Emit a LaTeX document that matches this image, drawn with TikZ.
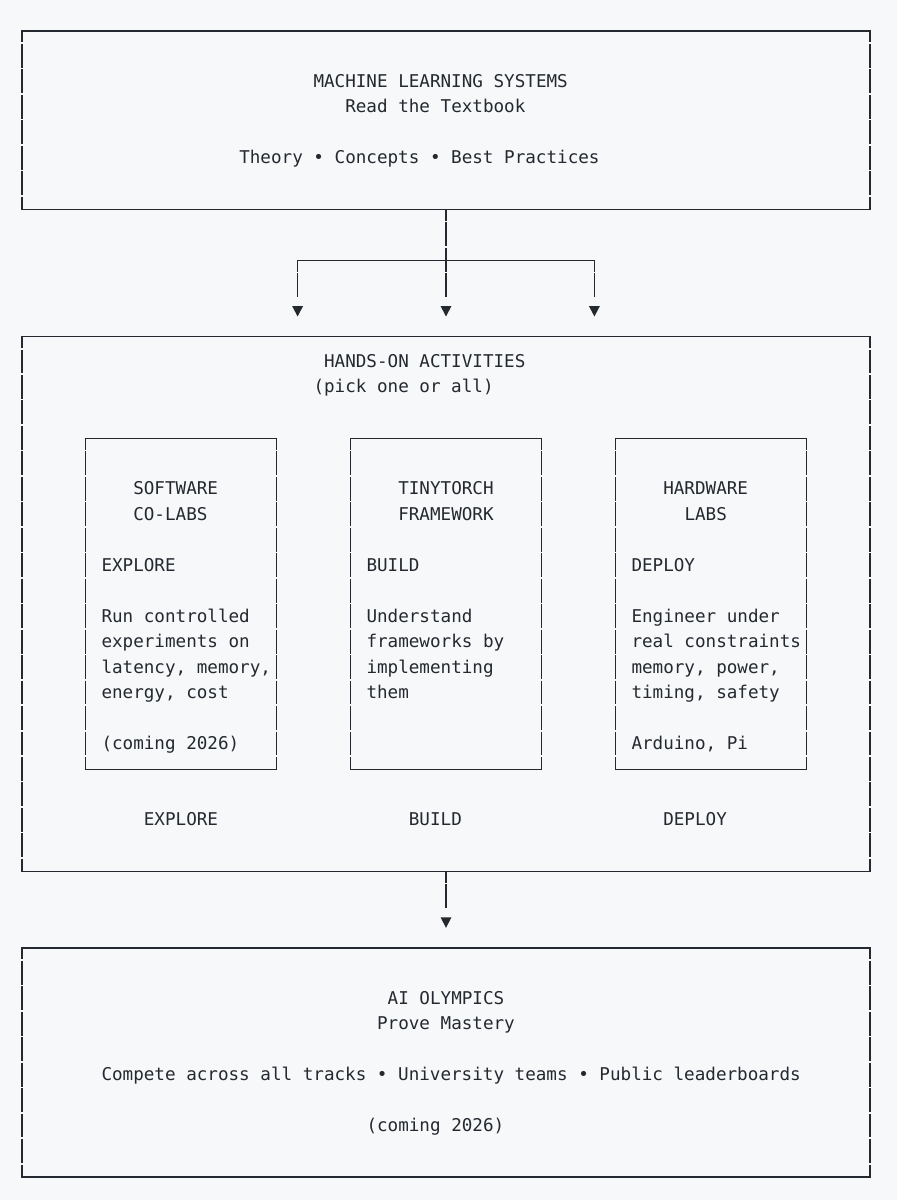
\documentclass[tikz,border=0pt]{standalone}
\usepackage{fontspec}
\usetikzlibrary{fit}
\newfontfamily\asciifont{DejaVu Sans Mono}
\definecolor{ink}{HTML}{24292F}
\definecolor{paper}{HTML}{F6F8FA}
% character grid: column centre and row centre
\newcommand{\cx}[1]{22+10.6*(#1)}
\newcommand{\ry}[1]{31+25.47*(#1)}
\tikzset{
	hrule/.style={draw=ink, line width=1.1pt, line cap=rect},
	vrule/.style={draw=ink, line width=1.1pt, dash pattern=on 17.9pt off 1.2pt, dash phase=9.43pt},
	frame/.style={inner sep=0pt, outer sep=0pt},
	txt/.style={font=\asciifont\fontsize{13.2pt}{16pt}\selectfont, text=ink, anchor=base west, inner sep=0pt, outer sep=0pt},
	tip/.style={fill=ink}
}
\begin{document}
\begin{tikzpicture}[x=0.75pt, y=-0.75pt]
		
		% Background
		\fill[paper] (0,0) rectangle (897,1200);
		
		% Boxes (name / first column / first row / last column / last row)
		\foreach \name/\ca/\ra/\cb/\rb in {ml/0/0/80/7, hands/0/12/80/33, olymp/0/36/80/45, sw/6/16/24/29, tt/31/16/49/29, hw/56/16/74/29}
		{
			\coordinate (\name-a) at ({\cx{\ca}},{\ry{\ra}});
			\coordinate (\name-b) at ({\cx{\cb}},{\ry{\rb}});
			\node[frame, fit=(\name-a)(\name-b)] (\name) {};
			\draw[hrule] (\name.north west) -- (\name.north east) (\name.south west) -- (\name.south east);
			\draw[vrule] (\name.north west) -- (\name.south west) (\name.north east) -- (\name.south east);
		}
		
		% Arrow heads
		\coordinate (tipl) at ({\cx{26}},{\ry{11}});
		\coordinate (tipc) at ({\cx{40}},{\ry{11}});
		\coordinate (tipr) at ({\cx{54}},{\ry{11}});
		\coordinate (tipb) at ({\cx{40}},{\ry{35}});
		\foreach \t in {tipl,tipc,tipr,tipb}
			\fill[tip] (\t) +(-5.4,-5) -- +(5.4,-5) -- +(0,5.3) -- cycle;
		
		% Branch to the activities
		\coordinate (brl) at ({\cx{26}},{\ry{9}});
		\coordinate (brr) at ({\cx{54}},{\ry{9}});
		\draw[hrule] (brl) -- (brr);
		\draw[vrule, shorten >=10.63pt] (ml.south) -- (tipc);
		\draw[vrule, shorten >=10.63pt] (brl) -- (tipl);
		\draw[vrule, shorten >=10.63pt] (brr) -- (tipr);
		
		% Down to the olympics
		\draw[vrule, shorten >=10.63pt] (hands.south) -- (tipb);
		
		% Labels (column / row / text)
		\foreach \c/\r/\t [count=\i] in {
			28/2/{MACHINE LEARNING SYSTEMS}, 31/3/{Read the Textbook}, 21/5/{Theory • Concepts • Best Practices},
			29/13/{HANDS-ON ACTIVITIES}, 28/14/{(pick one or all)},
			11/18/{SOFTWARE}, 11/19/{CO-LABS}, 8/21/{EXPLORE}, 8/23/{Run controlled}, 8/24/{experiments on}, 8/25/{latency, memory,}, 8/26/{energy, cost}, 8/28/{(coming 2026)},
			36/18/{TINYTORCH}, 36/19/{FRAMEWORK}, 33/21/{BUILD}, 33/23/{Understand}, 33/24/{frameworks by}, 33/25/{implementing}, 33/26/{them},
			61/18/{HARDWARE}, 63/19/{LABS}, 58/21/{DEPLOY}, 58/23/{Engineer under}, 58/24/{real constraints}, 58/25/{memory, power,}, 58/26/{timing, safety}, 58/28/{Arduino, Pi},
			12/31/{EXPLORE}, 37/31/{BUILD}, 61/31/{DEPLOY},
			35/38/{AI OLYMPICS}, 34/39/{Prove Mastery}, 8/41/{Compete across all tracks • University teams • Public leaderboards}, 33/43/{(coming 2026)}}
			\node[txt] (lbl\i) at ({\cx{\c}-5.3},{\ry{\r}+5.3}) {\t};
		
\end{tikzpicture}
\end{document}
